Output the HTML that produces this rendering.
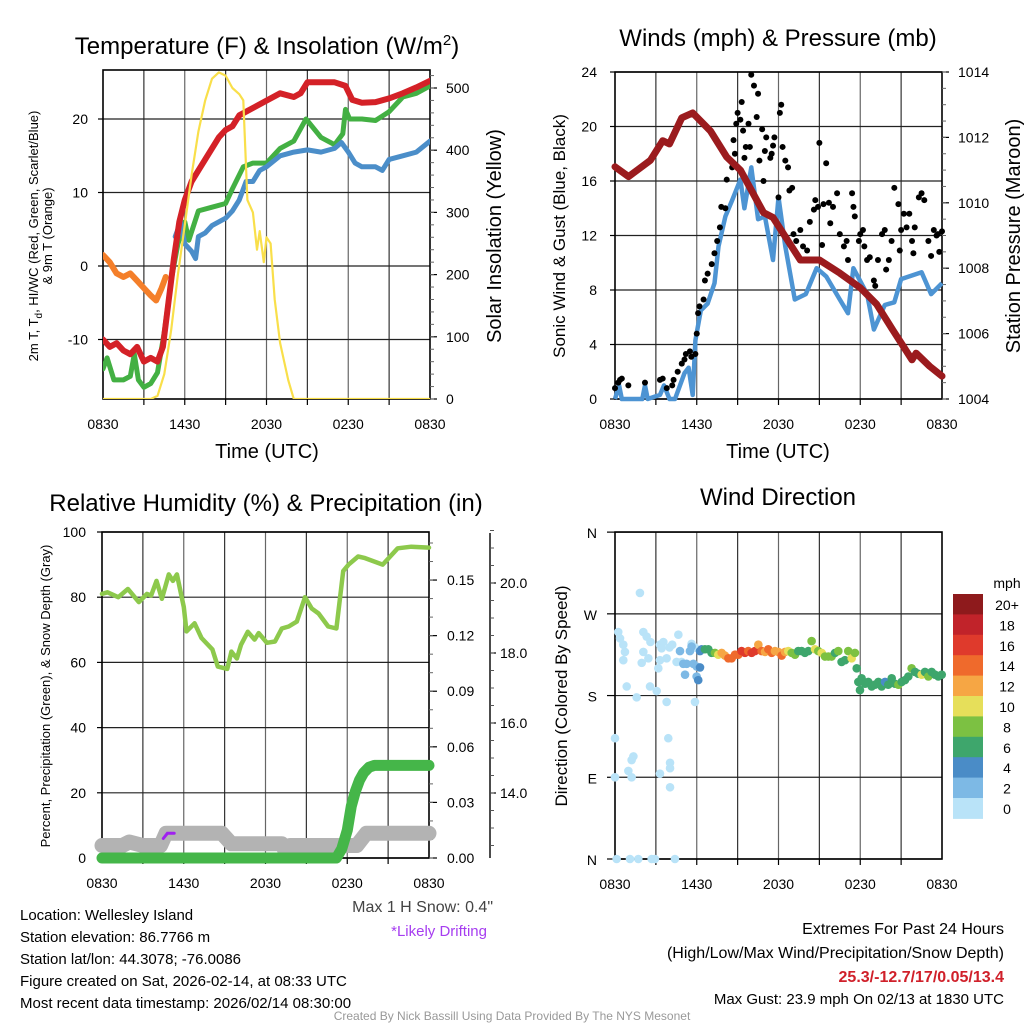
<!DOCTYPE html>
<html><head><meta charset="utf-8"><style>
html,body{margin:0;padding:0;background:#fff;}
svg{display:block;font-family:"Liberation Sans",Arial,sans-serif;}
</style></head><body>
<svg id="fig" width="1024" height="1024" viewBox="0 0 1024 1024" xmlns="http://www.w3.org/2000/svg"></svg>
<script>
// ---------- DATA ----------
const xTickLabels=["0830","1430","2030","0230","0830"];
// Panel 1: temperature (F) and insolation
const tempLeftTicks=[-10,0,10,20];
const insolTicks=[0,100,200,300,400,500];
const redT=[0,0.5,1,1.5,2,2.5,3,3.5,4,4.4,4.8,5.2,5.6,6,6.5,7,7.5,8,8.5,9,9.5,10,11,12,13,14,14.5,15,16,17,17.8,18.3,19,20,21,22,23,24];
const redV=[-10,-11,-10.5,-11.5,-12,-11,-13,-12.5,-13,-11,-5,1,6,9,11.5,13,14.5,16,17.5,18.5,19,20.5,21.5,22.5,23.5,23,23.5,25,25,25,24.5,22.6,22.2,22.3,22.8,23.5,24.3,25.2];
const orangeT=[0,0.5,1,1.5,2,2.5,3,3.5,3.9,4.3,4.6];
const orangeV=[1.5,0.5,-1,-1.5,-1,-2,-3,-4,-4.7,-3,-1.5];
const greenT=[0,0.3,0.8,1.5,2,2.3,2.6,3,3.5,4,4.5,5,5.5,6,6.3,7,8,9,9.5,10.3,11,12,13,14,14.9,16,17,17.6,17.8,18.1,19,20,21,22,23,24];
const greenV=[-14,-12.5,-15.5,-15.5,-15,-12,-15.5,-16.5,-16,-14.5,-9,-2,3,6,3.5,7.5,8,8.5,10.5,13.5,14,14,16,17,20,17.5,16.5,18,21.3,20,20,19.8,21,23,23.5,24.5];
const blueT=[5.3,5.7,6,6.5,6.8,7,7.5,8,9,9.5,10,10.5,11,11.5,12,13,14,15,16,17,17.5,18,18.5,19,20,20.5,21,22,23,24];
const blueV=[4,6,3,2,1,4,4.5,5.5,6.5,7.5,9,11.5,11.5,13,13.5,15,15.5,15.8,15.5,16,16.8,15.5,14,13.5,13.5,13,14.5,15,15.5,17];
const solarT=[0,3.5,4,4.5,5,5.5,6,6.5,7,7.5,8,8.5,9,9.5,10,10.3,10.6,11,11.3,11.5,11.8,12,12.3,12.6,13,13.3,13.6,14,24];
const solarV=[0,0,5,40,110,200,280,360,430,480,515,525,520,500,490,480,320,300,240,270,220,260,250,160,90,60,30,0,0];
// Panel 2: wind and pressure
const windTicks=[0,4,8,12,16,20,24];
const presTicks=[1004,1006,1008,1010,1012,1014];
const presT=[0,1,2.6,3.5,4,4.9,5.7,7,8.2,9.2,10.9,11.6,13.6,15,16.5,18,19.2,20.4,21.8,22.1,23.1,24];
const presV=[1011.1,1010.8,1011.3,1011.9,1011.8,1012.6,1012.75,1012.2,1011.4,1011.0,1009.7,1009.55,1008.25,1008.25,1007.85,1007.4,1006.9,1006.1,1005.2,1005.4,1005.0,1004.7];
const sonicT=[0,0.3,0.5,1,2,2.2,2.4,3.3,3.6,4,4.4,5.1,5.4,5.7,5.9,6.3,6.8,7.3,7.6,8.1,8.6,9.2,9.5,10,10.5,11,11.6,12,12.5,13.2,14,14.8,15.5,16.5,17.1,17.5,18.5,19,19.8,20.5,21,22.5,23.2,24];
const sonicV=[0,1,0,0,0,1,0,0.3,1,0,0,1.9,2.3,0.3,4.3,6.5,7,8.5,11.2,13.4,14.6,16.1,14,17,13.2,13.4,10.2,14.8,11.2,7.3,7.7,9.6,9,7.3,6.3,9.6,7.7,5.1,6.9,7.1,8.8,9.3,7.7,8.5];
const gustT=[0,0.24,0.37,0.5,0.98,2.2,3.3,3.5,3.8,4.2,4.3,4.6,4.9,5.1,5.2,5.5,5.6,5.9,6.0,6.1,6.2,6.5,6.6,6.8,7.1,7.3,7.5,7.7,7.8,8.1,8.2,8.6,8.7,8.8,8.9,9.0,9.2,9.3,9.4,9.5,9.6,9.8,9.9,10.0,10.2,10.4,10.5,10.6,10.8,10.9,11.0,11.1,11.4,11.5,11.6,11.7,12.0,12.1,12.2,12.3,12.5,12.7,12.8,13.0,13.1,13.3,13.6,13.8,14.1,14.3,14.6,14.7,14.9,15.0,15.2,15.3,15.5,15.7,15.8,16.0,16.3,16.5,16.8,17.0,17.1,17.4,17.5,17.6,17.9,18.0,18.2,18.3,18.5,18.7,19.0,19.1,19.3,19.6,19.8,19.9,20.1,20.3,20.5,20.8,20.9,21.0,21.2,21.4,21.6,21.8,21.9,22.0,22.3,22.5,22.7,23.0,23.2,23.4,23.6,23.7,23.8,24.0];
const gustV=[0.8,1.2,1.4,1.5,1.0,1.2,1.4,1.5,0.8,1.0,1.4,2.0,2.6,2.9,3.3,3.5,3.1,3.3,4.8,6.3,6.8,7.3,8.7,9.2,9.9,10.7,11.6,12.6,14.1,14.0,16.1,17.0,19.0,18.0,20.2,21.0,20.5,21.8,19.7,17.7,18.5,20.2,18.5,23.8,23.0,20.7,22.4,17.5,19.8,16.0,18.2,19.2,17.7,18.0,18.6,19.2,14.8,21.0,21.6,18.5,17.5,17.0,15.3,15.5,12.1,11.6,12.4,11.2,10.9,13.0,13.9,14.6,14.1,18.8,11.3,14.3,17.3,14.4,12.9,14.1,15.1,12.1,11.2,11.6,10.2,15.1,14.1,13.4,11.6,12.1,12.4,11.2,10.2,10.4,8.7,8.3,10.2,12.1,12.4,9.5,10.2,11.6,15.5,14.3,10.9,12.4,13.6,12.6,13.6,11.6,10.7,12.6,14.8,15.1,14.6,11.6,10.5,12.4,12.0,12.1,10.8,12.3];
// Panel 3: RH, precip, snow depth
const rhTicks=[0,20,40,60,80,100];
const precipTicks=[0,0.03,0.06,0.09,0.12,0.15];
const precipTickLabels=["0.00","0.03","0.06","0.09","0.12","0.15"];
const snowTicks=[14,16,18,20];
const snowTickLabels=["14.0","16.0","18.0","20.0"];
const rhT=[0,0.4,1.2,1.9,2.7,3.3,3.6,4.0,4.4,4.9,5.2,5.5,6.0,6.2,6.8,7.3,8.1,8.5,9.2,9.5,9.9,10.2,10.7,11.2,11.5,12.1,12.7,13.2,13.7,14.3,14.9,15.4,15.9,16.6,17.2,17.7,18.1,18.8,19.3,20.6,21.7,22.7,24];
const rhV=[81,81.5,80,82.5,78.5,81,80.5,85,79.5,87,85,87,77,69.5,72,67.5,64,58.7,58,63.3,61.2,65.4,69.4,67,69,66,66.4,70.4,71,72.5,80,76.5,75,71,70.4,88,90,92.5,92,90,95,95.5,95.2];
const precipT=[0,17.2,17.6,18.0,18.3,18.6,18.9,19.2,19.6,20,24];
const precipV=[0,0,0.005,0.015,0.028,0.036,0.042,0.046,0.049,0.05,0.05];
const snowT=[0,1.5,2,3,4.3,4.7,8.8,9.5,13.2,13.5,13.8,18.7,19.4,24];
const snowV=[12.5,12.5,12.6,12.5,12.5,12.85,12.85,12.55,12.55,12.3,12.5,12.5,12.85,12.85];
const driftT=[4.5,4.8,5.3];
const driftV=[12.7,12.85,12.85];
// Panel 4: wind direction coloured by speed
const dirTickLabels=["N","E","S","W","N"];
const dirTicks=[0,90,180,270,360];
const dirT=[1.83,0.24,0.37,0.61,0.73,0.61,2.08,2.32,2.08,2.45,1.96,3.30,3.55,3.42,3.79,3.30,3.18,4.65,4.52,4.89,0.86,2.57,3.06,1.59,3.79,5.87,0,3.91,1.35,1.22,4.04,4.04,0.98,1.22,0,3.30,4.04,0.12,1.1,1.71,2.69,2.93,4.4,5.87,5.62,4.2,4.0,2.6,
4.77,5.50,5.62,5.01,5.26,5.14,5.75,5.99,5.99,6.11,6.24,6.24,
6.36,6.60,6.85,7.09,7.34,7.58,7.83,8.07,8.32,8.56,8.81,9.05,9.29,9.54,9.78,10.03,10.27,10.52,10.76,11.01,11.25,11.50,11.74,11.99,12.23,12.48,12.72,12.97,13.21,13.45,13.70,13.94,14.19,14.43,14.68,14.92,15.17,15.41,15.66,15.90,16.15,16.39,16.63,16.88,17.12,17.37,17.61,17.74,
17.86,17.98,18.10,18.35,18.59,18.84,19.08,19.33,19.57,19.82,20.06,20.31,20.55,20.80,21.04,21.28,21.53,21.77,22.02,22.26,22.51,22.75,23.00,23.24,23.49,23.73,23.98];
const dirV=[293,250,243,236,228,219,250,245,228,221,216,236,239,232,221,219,210,247,217,217,190,190,185,178,173,173,133,133,113,109,106,100,97,90,90,94,79,0,0,0,0,0,0,233,237,236,233,239,
229,229,234,215,215,203,215,201,212,197,211,229,
231,231,231,227,227,225,227,224,221,221,225,225,229,227,229,227,229,236,229,228,231,227,229,228,224,228,229,227,225,229,229,227,229,240,231,229,227,223,223,223,227,229,217,219,229,221,227,210,
195,186,199,193,195,190,192,195,190,195,192,199,193,192,195,197,201,210,206,204,203,206,201,206,203,201,203];
const dirSpd=[1,1,1,1,1,1,1,1,1,1,1,1,1,1,1,1,1,1,1,1,1,1,1,1,1,1,1,1,1,1,1,1,1,1,1,1,1,1,1,1,1,1,1,1,1,1,1,1,
3,3,2,3,3,3,2,2,2,4,4,4,
5,6,6,7,8,10,12,13,14,14,14,15,16,16,15,17,16,12,15,13,14,14,13,12,15,12,10,9,8,6,6,6,7,8,10,9,10,8,8,8,7,8,7,7,8,10,8,6,
6,6,6,6,6,6,6,6,6,5,6,6,7,8,7,7,7,8,7,7,10,7,8,7,7,7,7];
const legendLabels=["20+","18","16","14","12","10","8","6","4","2","0"];
const legendColors=["#8e1a1c","#c1232a","#df3a2c","#ef6a2c","#f6a644","#e6df5a","#7cc142","#3ea66c","#4a8cc7","#7db9e5","#b9e3f8"];

// ---------- HELPERS ----------
const NS="http://www.w3.org/2000/svg";
const svg=document.getElementById('fig');
function mk(tag,attrs,parent,text){const e=document.createElementNS(NS,tag);for(const k in attrs)e.setAttribute(k,attrs[k]);if(text!==undefined)e.textContent=text;(parent||svg).appendChild(e);return e;}
function group(name){const g=mk('g',{});


return g;}
function txt(g,x,y,s,size,anchor,name,extra){const e=mk('text',Object.assign({x:x,y:y,'font-size':size,'text-anchor':anchor||'middle',fill:'#000'},extra||{}),g,s);


return e;}
function line(g,x1,y1,x2,y2,stroke,w){return mk('line',{x1:x1,y1:y1,x2:x2,y2:y2,stroke:stroke,'stroke-width':w},g);}
function pathFrom(ts,vs,sx,sy){let d='';for(let i=0;i<ts.length;i++){d+=(i?'L':'M')+sx(ts[i]).toFixed(1)+','+sy(vs[i]).toFixed(1);}return d;}
function colorFor(s){let i=Math.min(10,Math.floor(s/2));return legendColors[10-i];}

function frame(g,x0,y0,x1,y1,hTicksY){
  for(let k=1;k<8;k++){const x=x0+(x1-x0)*k/8;line(g,x,y0,x,y1,k%2?'#333':'#666',1.2);
    line(g,x,y1,x,y1+6,'#000',1.2);}
  hTicksY.forEach(y=>line(g,x0,y,x1,y,'#222',1.2));
  const r=mk('rect',{x:x0,y:y0,width:x1-x0,height:y1-y0,fill:'none',stroke:'#000','stroke-width':1.6},g);
  
  
  xTickLabels.forEach((s,i)=>txt(g,x0+(x1-x0)*i/4,y1+30,s,14,'middle','x-tick-label'));
}

// ---------- PANEL 1 ----------
(function(){
 const g=group('temperature-panel');
 const x0=103,x1=430,y0=70,y1=399;
 const sx=t=>x0+t/24*(x1-x0), sy=v=>266-v*7.35, sr=w=>399-w*0.622;
 frame(g,x0,y0,x1,y1,tempLeftTicks.map(sy));
 tempLeftTicks.forEach(v=>{txt(g,88,sy(v)+5,String(v),14,'end','left-tick-label');line(g,x0-5,sy(v),x0,sy(v),'#000',1.2);});
 insolTicks.forEach(v=>{txt(g,446,sr(v)+5,String(v),14,'start','right-tick-label');line(g,x1,sr(v),x1+7,sr(v),'#000',1.2);});
 for(let w=0;w<=520;w+=20){line(g,x1,sr(w),x1+4,sr(w),'#666',1);}
 const cl=mk('clipPath',{id:'c1'},g);mk('rect',{x:x0,y:y0,width:x1-x0,height:y1-y0},cl);
 const series=[[orangeT,orangeV,'#f47f2a',6,'dew-9m-orange-line',sy],[greenT,greenV,'#43b043',5,'dewpoint-green-line',sy],[blueT,blueV,'#4b8ec9',5,'windchill-blue-line',sy],[redT,redV,'#d42127',6,'temperature-red-line',sy],[solarT,solarV,'#f9df4a',2.2,'solar-insolation-line',sr]];
 series.forEach(s=>{const p=mk('path',{d:pathFrom(s[0],s[1],sx,s[5]),fill:'none',stroke:s[2],'stroke-width':s[3],'stroke-linejoin':'round','stroke-linecap':'round','clip-path':'url(#c1)'},g);
  
  });
 const ttl=txt(g,267,54,'',24,'middle','panel-title');
 ttl.innerHTML='Temperature (F) &amp; Insolation (W/m<tspan dy="-9" font-size="15">2</tspan><tspan dy="9">)</tspan>';
 txt(g,267,458,'Time (UTC)',20,'middle','x-axis-title');
 const yl=txt(g,0,0,'',13,'middle','y-axis-title',{transform:'translate(38,236) rotate(-90)'});
 yl.innerHTML='2m T, T<tspan dy="4" font-size="10">d</tspan><tspan dy="-4">, HI/WC (Red, Green, Scarlet/Blue)</tspan>';
 txt(g,0,0,'& 9m T (Orange)',13,'middle','y-axis-title-line2',{transform:'translate(52,236) rotate(-90)'});
 txt(g,0,0,'Solar Insolation (Yellow)',20,'middle','right-axis-title',{transform:'translate(501,236) rotate(-90)'});
})();

// ---------- PANEL 2 ----------
(function(){
 const g=group('winds-pressure-panel');
 const x0=615,x1=942,y0=72,y1=399;
 const sx=t=>x0+t/24*(x1-x0), sy=v=>399-v*13.625, sp=p=>399-(p-1004)*32.7;
 frame(g,x0,y0,x1,y1,windTicks.map(sy));
 windTicks.forEach(v=>{txt(g,597,sy(v)+5,String(v),14,'end','left-tick-label');line(g,x0-5,sy(v),x0,sy(v),'#000',1.2);});
 presTicks.forEach(v=>{txt(g,958,sp(v)+5,String(v),14,'start','right-tick-label');line(g,x1,sp(v),x1+7,sp(v),'#000',1.2);});
 for(let p=1004;p<=1014;p+=0.5){line(g,x1,sp(p),x1+4,sp(p),'#666',1);}
 const pb=mk('path',{d:pathFrom(sonicT,sonicV,sx,sy),fill:'none',stroke:'#4d94d3','stroke-width':4.5,'stroke-linejoin':'round'},g);
 
 
 for(let i=0;i<gustT.length;i++){const c=mk('circle',{cx:sx(gustT[i]),cy:sy(gustV[i]),r:3,fill:'#000'},g);
  
  }
 const pp=mk('path',{d:pathFrom(presT,presV,sx,sp),fill:'none',stroke:'#9b1b1e','stroke-width':7,'stroke-linejoin':'round','stroke-linecap':'round'},g);
 
 
 txt(g,778,46,'Winds (mph) & Pressure (mb)',24,'middle','panel-title');
 txt(g,778,458,'Time (UTC)',20,'middle','x-axis-title');
 txt(g,0,0,'Sonic Wind & Gust (Blue, Black)',17,'middle','y-axis-title',{transform:'translate(565,236) rotate(-90)'});
 txt(g,0,0,'Station Pressure (Maroon)',20,'middle','right-axis-title',{transform:'translate(1020,236) rotate(-90)'});
})();

// ---------- PANEL 3 ----------
(function(){
 const g=group('humidity-precip-panel');
 const x0=102,x1=429,y0=532,y1=858;
 const sx=t=>x0+t/24*(x1-x0), sy=v=>858-v*3.26, spr=p=>858-p*1853, ssn=s=>583+(20-s)*35;
 frame(g,x0,y0,x1,y1,rhTicks.map(sy));
 rhTicks.forEach(v=>{txt(g,86,sy(v)+5,String(v),14,'end','left-tick-label');line(g,x0-5,sy(v),x0,sy(v),'#000',1.2);});
 precipTicks.forEach((v,i)=>{txt(g,447,spr(v)+5,precipTickLabels[i],14,'start','precip-tick-label');line(g,x1,spr(v),x1+8,spr(v),'#000',1.2);});
 for(let p=0;p<=0.175;p+=0.01){line(g,x1,spr(p),x1+4,spr(p),'#666',1);}
 line(g,490,533,490,858,'#000',1.4);
 snowTicks.forEach((v,i)=>{txt(g,500,ssn(v)+5,snowTickLabels[i],14,'start','snow-tick-label');line(g,490,ssn(v),496,ssn(v),'#000',1.2);});
 for(let s=12.5;s<=21.5;s+=0.5){line(g,490,ssn(s),494,ssn(s),'#555',1);}
 const ps=mk('path',{d:pathFrom(snowT,snowV,sx,ssn),fill:'none',stroke:'#b3b3b3','stroke-width':15,'stroke-linejoin':'round','stroke-linecap':'round'},g);
 
 
 const pd=mk('path',{d:pathFrom(driftT,driftV,sx,ssn),fill:'none',stroke:'#a020f0','stroke-width':3,'stroke-linecap':'round'},g);
 
 
 const pg=mk('path',{d:pathFrom(precipT,precipV,sx,spr),fill:'none',stroke:'#45b649','stroke-width':11,'stroke-linejoin':'round','stroke-linecap':'round'},g);
 
 
 const pr=mk('path',{d:pathFrom(rhT,rhV,sx,sy),fill:'none',stroke:'#8dc94c','stroke-width':4.5,'stroke-linejoin':'round','stroke-linecap':'round'},g);
 
 
 txt(g,266,511,'Relative Humidity (%) & Precipitation (in)',24,'middle','panel-title');
 txt(g,0,0,'Percent, Precipitation (Green), & Snow Depth (Gray)',13,'middle','y-axis-title',{transform:'translate(50,696) rotate(-90)'});
 txt(g,493,912,'Max 1 H Snow: 0.4"',16,'end','max-snow-note',{fill:'#444'});
 txt(g,487,936,'*Likely Drifting',15,'end','drifting-note',{fill:'#a63df0'});
})();

// ---------- PANEL 4 ----------
(function(){
 const g=group('wind-direction-panel');
 const x0=615,x1=942,y0=532,y1=859;
 const sx=t=>x0+t/24*(x1-x0), sy=d=>859-d*0.908;
 frame(g,x0,y0,x1,y1,dirTicks.map(sy));
 dirTicks.forEach((v,i)=>{txt(g,597,sy(v)+6,dirTickLabels[i],14,'end','direction-tick-label');line(g,x0-8,sy(v),x0,sy(v),'#000',1.2);});
 for(let i=0;i<dirT.length;i++){const c=mk('circle',{cx:sx(dirT[i]),cy:sy(dirV[i]),r:4.3,fill:colorFor(dirSpd[i])},g);
  
  }
 txt(g,778,505,'Wind Direction',24,'middle','panel-title');
 txt(g,0,0,'Direction (Colored By Speed)',17,'middle','y-axis-title',{transform:'translate(567,696) rotate(-90)'});
 const lg=group('speed-legend');
 txt(lg,1007,588,'mph',14,'middle','legend-title');
 legendLabels.forEach((s,i)=>{const r=mk('rect',{x:953,y:594+i*20.4,width:30,height:20.9,fill:legendColors[i]},lg);
  
  
  txt(lg,1007,594+i*20.4+16,s,14,'middle','legend-label');});
})();

// ---------- FOOTER ----------
(function(){
 const g=group('footer');
 const lines=["Location: Wellesley Island","Station elevation: 86.7766 m","Station lat/lon: 44.3078; -76.0086","Figure created on Sat, 2026-02-14, at 08:33 UTC","Most recent data timestamp: 2026/02/14 08:30:00"];
 lines.forEach((s,i)=>txt(g,20,920+i*22,s,15,'start','station-info-line'));
 txt(g,1004,934,'Extremes For Past 24 Hours',16,'end','extremes-title');
 txt(g,1004,958,'(High/Low/Max Wind/Precipitation/Snow Depth)',16,'end','extremes-subtitle');
 txt(g,1004,982,'25.3/-12.7/17/0.05/13.4',16,'end','extremes-values',{fill:'#d0202a','font-weight':'bold'});
 txt(g,1004,1004,'Max Gust: 23.9 mph On 02/13 at 1830 UTC',15,'end','max-gust-note');
 txt(g,512,1020,'Created By Nick Bassill Using Data Provided By The NYS Mesonet',12,'middle','credit-line',{fill:'#999'});
})();
</script>
</body></html>
